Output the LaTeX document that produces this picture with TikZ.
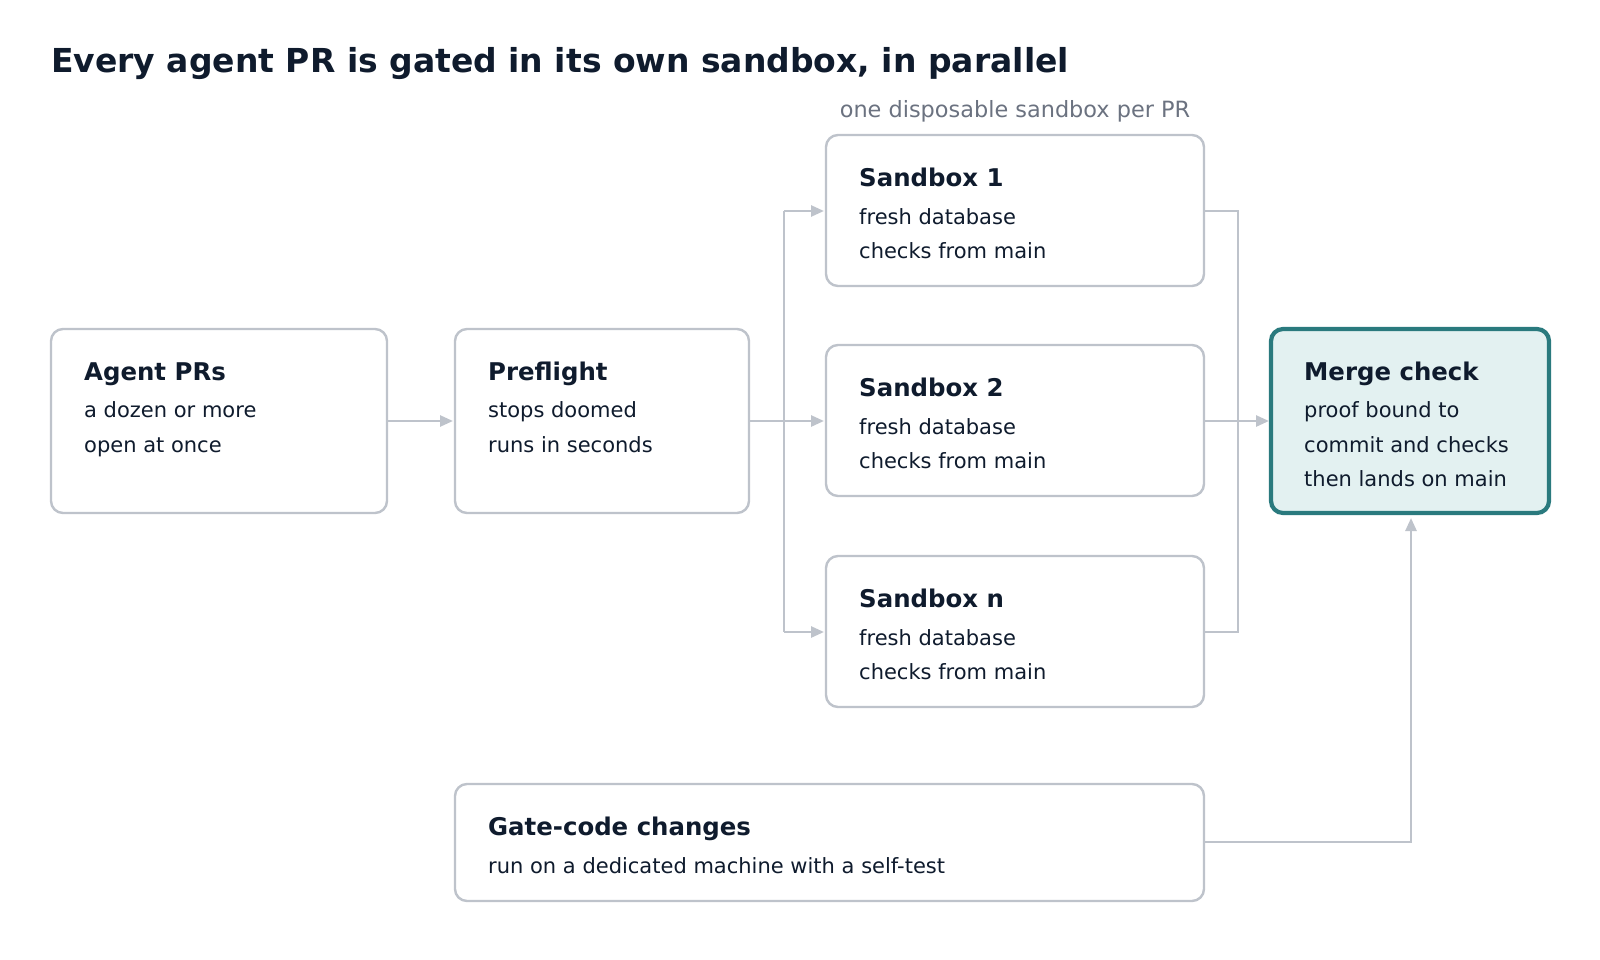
\documentclass[tikz,border=0pt]{standalone}
\usepackage{fontspec}
\setmainfont{DejaVu Sans}
\usetikzlibrary{arrows.meta}
\definecolor{edge}{HTML}{BEC3CB}
\definecolor{ink}{HTML}{0F1B2D}
\definecolor{teal}{HTML}{2A7A7E}
\definecolor{tfill}{HTML}{E3F1F1}
\definecolor{sub}{HTML}{6B7280}
\begin{document}
\begin{tikzpicture}[x=1pt,y=-1pt,
 box/.style={draw=edge,line width=2.4pt,rounded corners=12pt,fill=white},
 hd/.style={anchor=base west,font=\fontsize{24.4}{28}\selectfont\bfseries,text=ink,inner sep=0},
 bd/.style={anchor=base west,font=\fontsize{21}{25}\selectfont,text=ink,inner sep=0},
 ln/.style={draw=edge,line width=2.6pt},
 ar/.style={ln,-{Triangle[length=13pt,width=11pt]}}]
\useasboundingbox (0,0) rectangle (1600,960);
\node[anchor=base west,inner sep=0,font=\fontsize{33}{38}\selectfont\bfseries,text=ink] (title) at (51,73) {Every agent PR is gated in its own sandbox, in parallel};
\node[anchor=base,inner sep=0,font=\fontsize{22.4}{26}\selectfont,text=sub] (subt) at (1015,118) {one disposable sandbox per PR};
% boxes
\draw[box] (51,329) rectangle (387,513);
\node[hd] (h1) at (84,380) {Agent PRs};
\node[bd] at (84,417) {a dozen or more};
\node[bd] at (84,452) {open at once};
\draw[box] (455,329) rectangle (749,513);
\node[hd] at (488,380) {Preflight};
\node[bd] at (488,417) {stops doomed};
\node[bd] at (488,452) {runs in seconds};
\foreach \y/\n in {135/1,345/2,556/n}{
 \draw[box] (826,\y) rectangle (1204,\y+151);
 \node[hd] at (859,\y+51) {Sandbox \n};
 \node[bd] at (859,\y+89) {fresh database};
 \node[bd] at (859,\y+123) {checks from main};
}
\draw[draw=teal,line width=4.2pt,rounded corners=12pt,fill=tfill] (1271,329) rectangle (1549,513);
\node[hd] at (1304,380) {Merge check};
\node[bd] at (1304,417) {proof bound to};
\node[bd] at (1304,452) {commit and checks};
\node[bd] at (1304,486) {then lands on main};
\draw[box] (455,784) rectangle (1204,901);
\node[hd] at (488,835) {Gate-code changes};
\node[bd] at (488,873) {run on a dedicated machine with a self-test};
% named anchors
\coordinate (aR) at (387,421); \coordinate (pL) at (453,421);
\coordinate (pR) at (749,421);
\coordinate (s1L) at (824,211); \coordinate (s2L) at (824,421); \coordinate (snL) at (824,632);
\coordinate (s1R) at (1204,211); \coordinate (s2R) at (1204,421); \coordinate (snR) at (1204,632);
\coordinate (mL) at (1269,421); \coordinate (mB) at (1411,518);
\coordinate (gR) at (1204,842);
% connectors
\draw[ar] (aR) -- (pL);
\draw[ln] (pR) -- (784,421);
\draw[ln] (784,211) -- (784,632);
\draw[ar] (784,211) -- (s1L);
\draw[ar] (784,421) -- (s2L);
\draw[ar] (784,632) -- (snL);
\draw[ln] (s1R) -- (1238,211) -- (1238,632) -- (snR);
\draw[ar] (s2R) -- (mL);
\draw[ar] (gR) -- (1411,842) -- (mB);
\end{tikzpicture}
\end{document}
